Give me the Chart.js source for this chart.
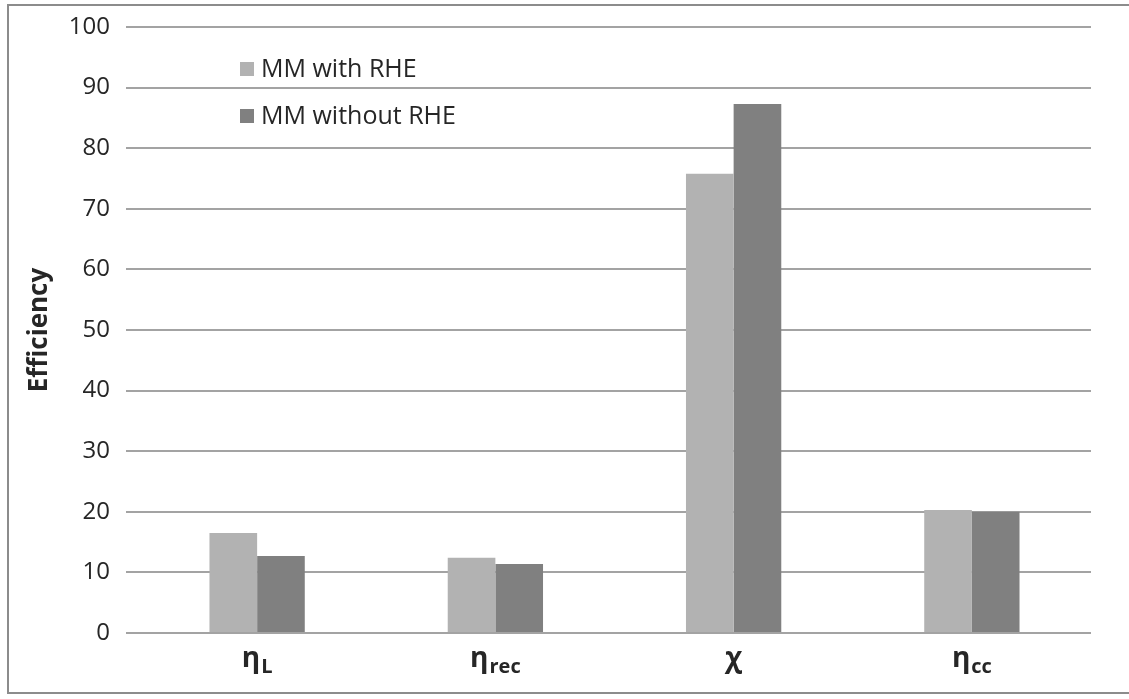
<!DOCTYPE html>
<html>
<head>
<meta charset="utf-8">
<script src="https://cdn.jsdelivr.net/npm/chart.js@4.4.1/dist/chart.umd.min.js"></script>
<style>
  html, body { margin: 0; padding: 0; background: #ffffff; }
  canvas { display: block; }
</style>
</head>
<body>
<canvas id="chart" width="1129" height="699"></canvas>
<script>
// Category symbols: main glyph plus subscript part
const categoryMain = ['η', 'η', 'χ', 'η'];
const categorySub = ['L', 'rec', '', 'cc'];
const categories = ['ηL', 'ηrec', 'χ', 'ηcc'];

// Efficiency values per configuration
const withRHE = [16.5, 12.4, 75.8, 20.3];
const withoutRHE = [12.7, 11.4, 87.3, 20.0];

const seriesNames = ['MM with RHE', 'MM without RHE'];
const seriesColors = ['#b2b2b2', '#808080'];

const yTicks = [0, 10, 20, 30, 40, 50, 60, 70, 80, 90, 100];

const TEXT = '#262626';
const FONT = "'Open Sans', 'DejaVu Sans', sans-serif";

// Outer frame around the chart
const framePlugin = {
  id: 'frame',
  beforeDraw(chart) {
    const ctx = chart.ctx;
    ctx.save();
    ctx.fillStyle = '#ffffff';
    ctx.fillRect(0, 0, chart.width, chart.height);
    ctx.strokeStyle = '#8c8c8c';
    ctx.lineWidth = 2;
    ctx.strokeRect(8, 5, chart.width + 20, 688);
    ctx.restore();
  }
};

// Category labels with subscripts under the x axis
const subLabelPlugin = {
  id: 'subLabels',
  afterDraw(chart) {
    const ctx = chart.ctx;
    const xs = chart.scales.x;
    ctx.save();
    ctx.fillStyle = TEXT;
    ctx.textBaseline = 'alphabetic';
    ctx.textAlign = 'left';
    const mainFont = "bold 28px " + FONT;
    const subFont = "bold 20px " + FONT;
    categories.forEach((c, i) => {
      const x = xs.getPixelForValue(i);
      ctx.font = mainFont;
      const wm = ctx.measureText(categoryMain[i]).width;
      ctx.font = subFont;
      const ws = categorySub[i] ? ctx.measureText(categorySub[i]).width + 1 : 0;
      const start = x - (wm + ws) / 2;
      ctx.font = mainFont;
      ctx.fillText(categoryMain[i], start, 667);
      if (categorySub[i]) {
        ctx.font = subFont;
        ctx.fillText(categorySub[i], start + wm + 1, 673);
      }
    });
    ctx.restore();
  }
};

// Legend placed inside the plot area, stacked vertically
const innerLegendPlugin = {
  id: 'innerLegend',
  afterDraw(chart) {
    const ctx = chart.ctx;
    ctx.save();
    ctx.font = "25px " + FONT;
    ctx.textBaseline = 'middle';
    ctx.textAlign = 'left';
    const rows = [69, 116];
    chart.data.datasets.forEach((ds, i) => {
      const y = rows[i];
      ctx.fillStyle = ds.backgroundColor;
      ctx.fillRect(240, y - 7, 14, 14);
      ctx.fillStyle = TEXT;
      ctx.fillText(ds.label, 261, y + 1);
    });
    ctx.restore();
  }
};

new Chart(document.getElementById('chart'), {
  type: 'bar',
  data: {
    labels: categories,
    datasets: [
      { label: seriesNames[0], data: withRHE, backgroundColor: seriesColors[0], borderWidth: 0 },
      { label: seriesNames[1], data: withoutRHE, backgroundColor: seriesColors[1], borderWidth: 0 }
    ]
  },
  options: {
    responsive: false,
    devicePixelRatio: 1,
    animation: false,
    layout: { padding: { top: 27, right: 38, bottom: 58, left: 0 } },
    datasets: { bar: { categoryPercentage: 0.4, barPercentage: 1.0 } },
    plugins: {
      legend: { display: false },
      tooltip: { enabled: false }
    },
    scales: {
      x: {
        grid: { display: false },
        border: { display: false },
        ticks: { display: false }
      },
      y: {
        min: 0,
        max: 100,
        afterFit(scale) {
          scale.width = 138;
          scale.paddingTop = 0;
          scale.paddingBottom = 0;
        },
        afterBuildTicks(scale) { scale.ticks = yTicks.map(v => ({ value: v })); },
        grid: { color: '#a3a3a3', lineWidth: 2, tickLength: 12, drawTicks: true },
        border: { display: false },
        ticks: {
          color: TEXT,
          padding: 16,
          font: { family: FONT, size: 24 }
        },
        title: {
          display: true,
          text: 'Efficiency',
          color: TEXT,
          font: { family: FONT, size: 26, weight: 'bold' },
          padding: { top: 24, bottom: 0 }
        }
      }
    }
  },
  plugins: [framePlugin, subLabelPlugin, innerLegendPlugin]
});
</script>
</body>
</html>
